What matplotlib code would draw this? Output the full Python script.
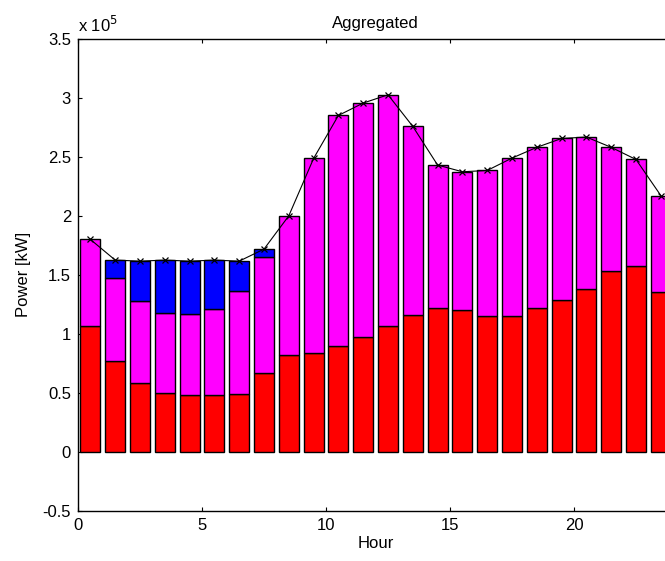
import matplotlib
matplotlib.use("Agg")
import matplotlib.pyplot as plt
import numpy as np
from matplotlib.ticker import FuncFormatter

plt.rcParams['font.family'] = ['Liberation Sans', 'DejaVu Sans']

hours = list(range(24))
red = [1.07, 0.77, 0.58, 0.50, 0.48, 0.48, 0.49, 0.67, 0.82, 0.84, 0.90, 0.97,
       1.07, 1.16, 1.22, 1.20, 1.155, 1.155, 1.22, 1.285, 1.38, 1.53, 1.576, 1.353]
magenta = [0.73, 0.70, 0.70, 0.68, 0.685, 0.735, 0.877, 0.985, 1.18, 1.646, 1.95, 1.985,
           1.955, 1.597, 1.21, 1.173, 1.229, 1.334, 1.36, 1.37, 1.287, 1.05, 0.901, 0.819]
blue = [0.0, 0.155, 0.336, 0.445, 0.451, 0.41, 0.249, 0.063, 0, 0, 0, 0,
        0, 0, 0, 0, 0, 0, 0, 0, 0, 0, 0, 0]
scale = 1e5

red_v = np.array(red) * scale
mag_v = np.array(magenta) * scale
blue_v = np.array(blue) * scale
total = red_v + mag_v + blue_v
x = np.array(hours) + 0.5

fig = plt.figure(figsize=(6.65, 5.61), dpi=100)
ax = fig.add_axes([78/665, 50/561, 595.2/665, 472.3/561])

ax.bar(x, red_v, width=0.8, color=(1, 0, 0), edgecolor='black', linewidth=1.0, zorder=2)
ax.bar(x, mag_v, width=0.8, bottom=red_v, color=(1, 0, 1), edgecolor='black', linewidth=1.0, zorder=2)
bmask = blue_v > 0
ax.bar(x[bmask], blue_v[bmask], width=0.8, bottom=(red_v + mag_v)[bmask], color=(0, 0, 1),
       edgecolor='black', linewidth=1.0, zorder=2)
ax.plot(x, total, color='black', linewidth=0.8, marker='x', markersize=5, markeredgewidth=0.9, zorder=3)

ax.set_xlim(0, 24)
ax.set_ylim(-0.5e5, 3.5e5)
ax.set_xticks([0, 5, 10, 15, 20])
ax.set_yticks(np.arange(-0.5, 3.51, 0.5) * scale)
ax.yaxis.set_major_formatter(FuncFormatter(lambda v, p: '%g' % round(v / scale, 2)))
ax.tick_params(direction='in', length=3, width=0.8, labelsize=12, top=True, right=True, pad=5)
for s in ax.spines.values():
    s.set_linewidth(1.0)

ax.set_title('Aggregated', fontsize=12, pad=8)
ax.set_xlabel('Hour', fontsize=12, labelpad=2)
ax.set_ylabel('Power [kW]', fontsize=12, labelpad=8)
ax.text(0.0, 1.008, r'x 10$^5$', transform=ax.transAxes, fontsize=12, ha='left', va='bottom')

fig.savefig('out.png', dpi=100)
